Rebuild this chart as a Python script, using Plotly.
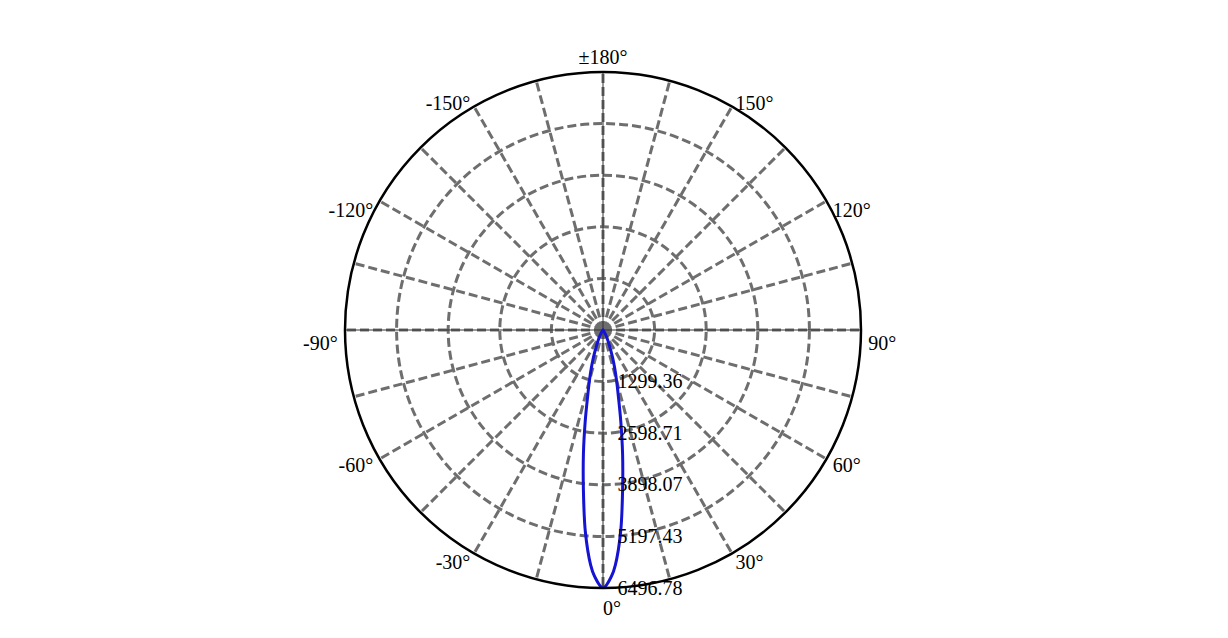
import plotly.graph_objects as go

# light distribution curve (cd)
THETA = [-180, -90, -60, -40, -30, -25, -21, -19, -17, -15, -13, -11, -9, -7, -5, -3, -2,
         0, 2, 3, 5, 7, 9, 11, 13, 15, 17, 19, 21, 25, 30, 40, 60, 90, 180]
INTENSITY = [0, 0, 0, 25, 120, 290, 540, 760, 1010, 1320, 1720, 2350, 3150, 4050, 5100, 5930, 6200,
             6496.78, 6200, 5930, 5100, 4050, 3150, 2350, 1720, 1320, 1010, 760, 540, 290, 120, 25, 0, 0, 0]

R_MAX = 6496.78
R_TICKS = [1299.36, 2598.71, 3898.07, 5197.43, 6496.78]
R_LABELS = ["1299.36", "2598.71", "3898.07", "5197.43", "6496.78"]

GRID_ANGLES = list(range(0, 360, 15))
LABEL_ANGLES = [0, 30, 60, 90, 120, 150, 180, 210, 240, 270, 300, 330]
LABEL_TEXT = ["0°", "30°", "60°", "90°", "120°", "150°", "±180°", "-150°", "-120°", "-90°", "-60°", "-30°"]
LABEL_POS = ["bottom right", "middle right", "middle right", "bottom right", "bottom right", "middle right",
             "top center", "middle left", "bottom left", "bottom left", "middle left", "middle left"]

CROSS = [0, 90]

FONT = "Liberation Serif"
GRID = "#6e6e6e"
DASH = "9px,4px"

# outer polar (labels only) is a bit bigger than the plot polar
PAD = 289 / 258
DOM = (1 - 1 / PAD) / 2

fig = go.Figure()

# thin solid cross under the dashed grid lines
for a in CROSS:
    fig.add_trace(go.Scatterpolar(
        r=[R_MAX, 0, R_MAX], theta=[a, a, a + 180], mode="lines",
        line=dict(color="#333333", width=1), hoverinfo="skip", showlegend=False,
    ))

fig.add_trace(go.Scatterpolar(
    r=INTENSITY, theta=THETA, mode="lines",
    line=dict(color="#1414d2", width=3, shape="spline"),
    showlegend=False,
))

# angle labels, just outside the outer circle
fig.add_trace(go.Scatterpolar(
    r=[R_MAX * 1.04] * len(LABEL_ANGLES), theta=LABEL_ANGLES, mode="text",
    text=LABEL_TEXT, textposition=LABEL_POS,
    textfont=dict(family=FONT, size=20, color="black"),
    hoverinfo="skip", showlegend=False, subplot="polar2",
))

hidden = dict(showgrid=False, showline=False, showticklabels=False, ticks="")

fig.update_layout(
    width=1228, height=638,
    margin=dict(l=72, r=110, t=33, b=27),
    paper_bgcolor="white",
    font=dict(family=FONT, size=20, color="black"),
    polar=dict(
        domain=dict(x=[0, 1], y=[DOM, 1 - DOM]),
        bgcolor="white",
        angularaxis=dict(
            rotation=-90, direction="counterclockwise",
            tickmode="array", tickvals=GRID_ANGLES, showticklabels=False,
            ticks="", showline=True, linecolor="black", linewidth=2.5,
            showgrid=True, gridcolor=GRID, gridwidth=2.5, griddash=DASH,
        ),
        radialaxis=dict(
            range=[0, R_MAX], angle=-90, tickangle=-90, side="counterclockwise",
            tickmode="array", tickvals=R_TICKS, ticktext=R_LABELS,
            ticks="outside", ticklen=10, tickcolor="rgba(0,0,0,0)", showline=False,
            showgrid=True, gridcolor=GRID, gridwidth=2.5, griddash=DASH,
            tickfont=dict(family=FONT, size=20),
        ),
    ),
    # slightly lowered and scaled so the labels sit like the reference
    polar2=dict(
        domain=dict(x=[0, 1], y=[0, 0.984]),
        bgcolor="rgba(0,0,0,0)",
        angularaxis=dict(rotation=-90, direction="counterclockwise", **hidden),
        radialaxis=dict(range=[0, R_MAX * 1.115], **hidden),
    ),
)

fig.write_html("out.html")
